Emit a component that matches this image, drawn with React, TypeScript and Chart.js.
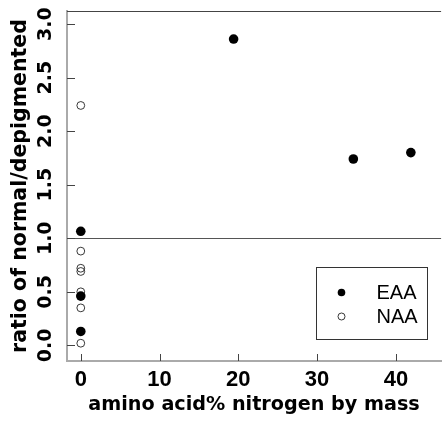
import React, { useEffect, useRef } from "react";
import { Chart, registerables } from "chart.js";

Chart.register(...registerables);

// ---- data ----
const eaaLabel = "EAA";
const naaLabel = "NAA";
const eaaX = [0, 0, 0, 19.4, 34.6, 41.9];
const eaaY = [1.065, 0.46, 0.13, 2.86, 1.74, 1.8];
const naaX = [0, 0, 0, 0, 0, 0, 0];
const naaY = [2.24, 0.88, 0.72, 0.69, 0.5, 0.35, 0.02];
const xTicks = [0, 10, 20, 30, 40];
const yTicks = [0, 0.5, 1.0, 1.5, 2.0, 2.5, 3.0];
const xTitle = "amino acid% nitrogen by mass";
const yTitle = "ratio of normal/depigmented";
const refLineValue = 1.0;

const decorPlugin = {
  id: "decor",
  afterDatasetsDraw(chart: any) {
    const { ctx, chartArea } = chart;
    const xs = chart.scales.x;
    const ys = chart.scales.y;
    ctx.save();
    // top frame line
    ctx.strokeStyle = "#444";
    ctx.lineWidth = 1;
    ctx.beginPath();
    ctx.moveTo(chartArea.left, chartArea.top + 0.5);
    ctx.lineTo(chartArea.right, chartArea.top + 0.5);
    ctx.stroke();
    // reference line at 1.0
    const yr = Math.round(ys.getPixelForValue(refLineValue)) + 0.5;
    ctx.strokeStyle = "#555";
    ctx.beginPath();
    ctx.moveTo(chartArea.left, yr);
    ctx.lineTo(chartArea.right, yr);
    ctx.stroke();
    // inward tick marks
    ctx.strokeStyle = "#444";
    ys.ticks.forEach((t: any) => {
      const p = Math.round(ys.getPixelForValue(t.value)) + 0.5;
      ctx.beginPath();
      ctx.moveTo(chartArea.left, p);
      ctx.lineTo(chartArea.left + 8, p);
      ctx.stroke();
    });
    xs.ticks.forEach((t: any) => {
      const p = Math.round(xs.getPixelForValue(t.value)) + 0.5;
      ctx.beginPath();
      ctx.moveTo(p, chartArea.bottom);
      ctx.lineTo(p, chartArea.bottom - 7);
      ctx.stroke();
    });
    // legend box
    const bw = 111, bh = 72;
    const bx = Math.round(chartArea.right - 14 - bw) + 0.5;
    const by = Math.round(chartArea.bottom - 22 - bh) + 0.5;
    ctx.fillStyle = "#fff";
    ctx.fillRect(bx, by, bw, bh);
    ctx.strokeStyle = "#333";
    ctx.strokeRect(bx, by, bw, bh);
    const ds = chart.data.datasets;
    ds.forEach((d: any, i: number) => {
      const cy = by + 25 + i * 24;
      const cx = bx + 25;
      ctx.beginPath();
      ctx.arc(cx, cy, i === 0 ? 3.8 : 3.5, 0, Math.PI * 2);
      if (i === 0) {
        ctx.fillStyle = "#000";
        ctx.fill();
      } else {
        ctx.strokeStyle = "#222";
        ctx.lineWidth = 0.9;
        ctx.stroke();
      }
      ctx.fillStyle = "#000";
      ctx.font = "20px 'Liberation Sans', Arial, sans-serif";
      ctx.textAlign = "left";
      ctx.textBaseline = "middle";
      ctx.fillText(d.label, bx + 60, cy + 1);
    });
    ctx.restore();
  },
};

export default function App() {
  const ref = useRef<HTMLCanvasElement>(null);
  useEffect(() => {
    const canvas = ref.current;
    if (!canvas) return;
    const chart = new Chart(canvas, {
      type: "scatter",
      data: {
        datasets: [
          {
            label: eaaLabel,
            data: eaaX.map((x, i) => ({ x, y: eaaY[i] })),
            pointRadius: 4.8,
            pointBackgroundColor: "#000",
            pointBorderWidth: 0,
          },
          {
            label: naaLabel,
            data: naaX.map((x, i) => ({ x, y: naaY[i] })),
            pointRadius: 3.9,
            pointBackgroundColor: "rgba(0,0,0,0)",
            pointBorderColor: "#222",
            pointBorderWidth: 0.9,
          },
        ],
      },
      options: {
        responsive: false,
        animation: false,
        events: [],
        layout: { padding: { top: 11, left: 0, right: 0, bottom: 0 } },
        plugins: { legend: { display: false }, tooltip: { enabled: false } },
        scales: {
          x: {
            type: "linear",
            position: "bottom",
            min: -1.75,
            max: 45.74,
            grid: { display: true, drawOnChartArea: false, drawTicks: false },
            border: { display: true, color: "#aaa", width: 2 },
            afterBuildTicks: (s: any) => {
              s.ticks = xTicks.map((v) => ({ value: v }));
            },
            afterFit: (s: any) => {
              s.height = 60;
              s.paddingLeft = 0;
              s.paddingRight = 0;
            },
            ticks: {
              color: "#000",
              padding: 6,
              autoSkip: false,
              maxRotation: 0,
              font: { family: "'Liberation Sans', Arial, sans-serif", size: 22, weight: "bold" },
              callback: (v: any) => String(v),
            },
            title: {
              display: true,
              text: xTitle,
              color: "#000",
              font: { family: "'DejaVu Sans', sans-serif", size: 19.2, weight: "bold" },
              padding: { top: 0, bottom: 4.5 },
            },
          },
          y: {
            type: "linear",
            position: "left",
            min: -0.146,
            max: 3.122,
            grid: { display: true, drawOnChartArea: false, drawTicks: false },
            border: { display: true, color: "#aaa", width: 2 },
            afterBuildTicks: (s: any) => {
              s.ticks = yTicks.map((v) => ({ value: v }));
            },
            afterFit: (s: any) => {
              s.width = 67;
              s.paddingTop = 0;
              s.paddingBottom = 0;
            },
            ticks: {
              color: "#000",
              padding: 4,
              autoSkip: false,
              minRotation: 90,
              maxRotation: 90,
              crossAlign: "center",
              font: { family: "'DejaVu Sans', sans-serif", size: 19, weight: "bold" },
              callback: (v: any) => Number(v).toFixed(1),
            },
            title: {
              display: true,
              text: yTitle,
              color: "#000",
              font: { family: "'DejaVu Sans', sans-serif", size: 20.5, weight: "bold" },
              padding: { top: 8.3, bottom: 0 },
            },
          },
        },
      },
      plugins: [decorPlugin],
    } as any);
    return () => chart.destroy();
  }, []);
  return (
    <div style={{ position: "absolute", left: 0, top: 0, width: 446, height: 421, background: "#fff" }}>
      <canvas ref={ref} width={446} height={421} style={{ display: "block" }} />
    </div>
  );
}
